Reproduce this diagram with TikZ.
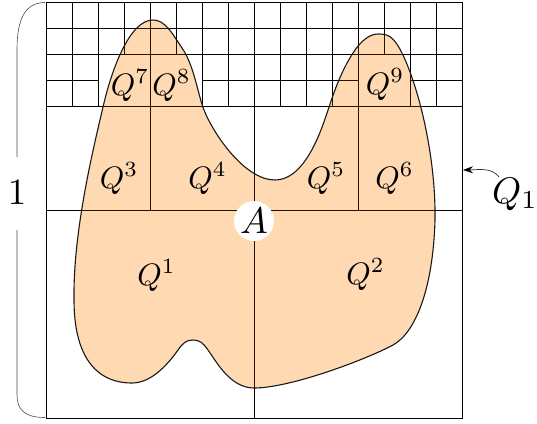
\documentclass[tikz,border=0pt]{standalone}
\usepackage{graphicx}
\usetikzlibrary{arrows.meta}
\def\blob{(153,20) .. controls (130,20) and (112,68) .. (103,107)
.. controls (94,146) and (73,230) .. (74,300)
.. controls (74,355) and (95,383) .. (132,383)
.. controls (150,383) and (166,367) .. (178,350)
.. controls (183,343) and (186,340) .. (193,340)
.. controls (200,340) and (203,343) .. (208,350)
.. controls (216,361) and (230,388) .. (254,388)
.. controls (290,388) and (365,360) .. (393,345)
.. controls (415,333) and (433,290) .. (435,220)
.. controls (436,160) and (420,90) .. (402,53)
.. controls (393,35) and (387,34) .. (378,34)
.. controls (369,34) and (360,42) .. (353,53)
.. controls (340,73) and (333,95) .. (326,116)
.. controls (316,146) and (300,180) .. (275,180)
.. controls (245,180) and (214,135) .. (204,110)
.. controls (198,95) and (194,65) .. (182,48)
.. controls (172,33) and (165,20) .. (153,20) -- cycle}
\newcommand\gridlines[1]{%
\begin{scope}[shift={(46,418)},x=26pt,y=26pt,every path/.style={draw=#1,line width=0.7pt}]
 \draw (0,0) rectangle (16,16);
 \draw (0,8) -- (16,8) (8,0) -- (8,16);
 \draw (0,12) -- (16,12) (4,8) -- (4,16) (12,8) -- (12,16);
 \draw (0,14) -- (16,14);
 \foreach \xx in {2,6,10,14} {\draw (\xx,12) -- (\xx,16);}
 \draw (0,15) -- (16,15);
 \foreach \xx in {1,3,...,15} {\draw (\xx,14) -- (\xx,16);}
 \draw (0,13) -- (2,13) (6,13) -- (12,13) (14,13) -- (16,13);
 \foreach \xx in {1,7,9,11,15} {\draw (\xx,12) -- (\xx,14);}
\end{scope}}
\newcommand\sm[1]{\scalebox{3.1}{$#1$}}
\newcommand\bg[1]{\scalebox{3.7}{$#1$}}
\tikzset{
 qlab/.style={inner sep=0pt, anchor=base},
 biglab/.style={inner sep=0pt},
}
\begin{document}
\begin{tikzpicture}[x=1pt,y=-1pt]
\useasboundingbox (0,0) rectangle (537,423);
\fill[orange!30] \blob;
\gridlines{black}
\begin{scope}
 \clip \blob;
 \gridlines{black!65!orange!40!black}
\end{scope}
\draw[line width=1.1pt, black!90] \blob;
% labels
\node[qlab] (q7) at (130,95) {\sm{Q^7}};
\node[qlab] (q8) at (171.5,95) {\sm{Q^8}};
\node[qlab] (q9) at (385,94) {\sm{Q^9}};
\node[qlab] (q3) at (119,188) {\sm{Q^3}};
\node[qlab] (q4) at (207.5,188) {\sm{Q^4}};
\node[qlab] (q5) at (326,188) {\sm{Q^5}};
\node[qlab] (q6) at (394.5,188) {\sm{Q^6}};
\node[qlab] (q1) at (156.5,285) {\sm{Q^1}};
\node[qlab] (q2) at (365.5,284) {\sm{Q^2}};
\node[biglab, circle, fill=white, minimum size=40pt] (a) at (254,221) {\bg{A}};
% brace
\draw[black!70, line width=0.6pt] (45,2.5) .. controls (22,2.5) and (17,25) .. (17,50) -- (17,157);
\draw[black!70, line width=0.6pt] (17,230) -- (17,395) .. controls (17,410) and (25,417.5) .. (45,417.5);
\node[biglab, anchor=base] (one) at (17,204) {\bg{1}};
% Q_1 label
\node[biglab, anchor=base west] (qone) at (492,203) {\bg{Q_1}};
\coordinate (qstart) at (499,177);
\coordinate (tip) at (463,170);
\draw[black!80, line width=0.7pt, -{Stealth[length=10pt,width=7pt,black]}] (qstart) .. controls (492,168) and (482,169.5) .. (tip);
\end{tikzpicture}
\end{document}
